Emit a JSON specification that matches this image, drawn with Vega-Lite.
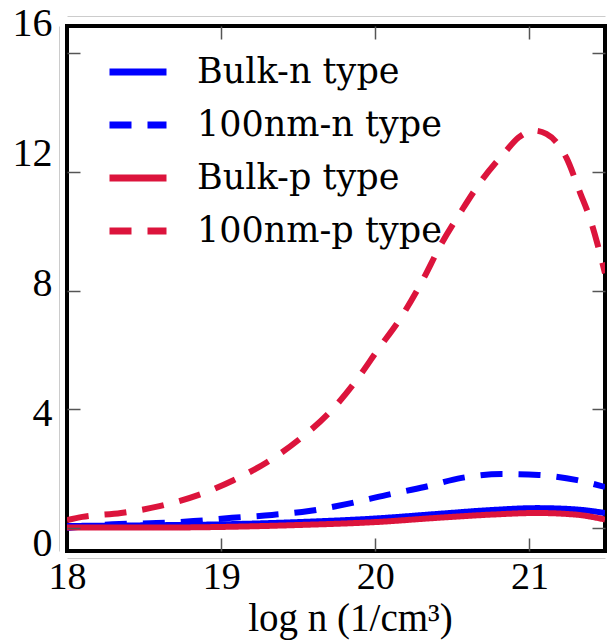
{
  "$schema": "https://vega.github.io/schema/vega-lite/v6.json",
  "width": 538,
  "height": 525,
  "autosize": {"type": "none"},
  "padding": {"left": 67, "top": 26, "right": 3, "bottom": 89},
  "background": "white",
  "config": {
    "view": {"stroke": "black", "strokeWidth": 4},
    "axis": {"grid": false}
  },
  "resolve": {
    "scale": {"y": "independent"},
    "axis": {"x": "independent", "y": "independent"}
  },
  "layer": [
    {
      "data": {
        "values": [
          {"series": "Bulk-n type", "logn": 18.0, "value": 0.63},
          {"series": "Bulk-n type", "logn": 18.5, "value": 0.65},
          {"series": "Bulk-n type", "logn": 19.0, "value": 0.68},
          {"series": "Bulk-n type", "logn": 19.5, "value": 0.75},
          {"series": "Bulk-n type", "logn": 20.0, "value": 0.86},
          {"series": "Bulk-n type", "logn": 20.4, "value": 1.0},
          {"series": "Bulk-n type", "logn": 20.75, "value": 1.12},
          {"series": "Bulk-n type", "logn": 21.05, "value": 1.18},
          {"series": "Bulk-n type", "logn": 21.3, "value": 1.14},
          {"series": "Bulk-n type", "logn": 21.49, "value": 1.03},

          {"series": "100nm-n type", "logn": 18.0, "value": 0.57},
          {"series": "100nm-n type", "logn": 18.34, "value": 0.69},
          {"series": "100nm-n type", "logn": 18.58, "value": 0.72},
          {"series": "100nm-n type", "logn": 18.82, "value": 0.78},
          {"series": "100nm-n type", "logn": 19.07, "value": 0.88},
          {"series": "100nm-n type", "logn": 19.33, "value": 0.97},
          {"series": "100nm-n type", "logn": 19.57, "value": 1.09},
          {"series": "100nm-n type", "logn": 19.82, "value": 1.31},
          {"series": "100nm-n type", "logn": 20.07, "value": 1.58},
          {"series": "100nm-n type", "logn": 20.32, "value": 1.83},
          {"series": "100nm-n type", "logn": 20.56, "value": 2.11},
          {"series": "100nm-n type", "logn": 20.82, "value": 2.23},
          {"series": "100nm-n type", "logn": 21.06, "value": 2.2},
          {"series": "100nm-n type", "logn": 21.31, "value": 2.04},
          {"series": "100nm-n type", "logn": 21.49, "value": 1.83},

          {"series": "Bulk-p type", "logn": 18.0, "value": 0.58},
          {"series": "Bulk-p type", "logn": 18.5, "value": 0.58},
          {"series": "Bulk-p type", "logn": 19.0, "value": 0.6},
          {"series": "Bulk-p type", "logn": 19.5, "value": 0.66},
          {"series": "Bulk-p type", "logn": 20.0, "value": 0.75},
          {"series": "Bulk-p type", "logn": 20.4, "value": 0.88},
          {"series": "Bulk-p type", "logn": 20.75, "value": 0.98},
          {"series": "Bulk-p type", "logn": 21.05, "value": 1.03},
          {"series": "Bulk-p type", "logn": 21.3, "value": 0.98},
          {"series": "Bulk-p type", "logn": 21.49, "value": 0.83},

          {"series": "100nm-p type", "logn": 18.0, "value": 0.81},
          {"series": "100nm-p type", "logn": 18.1, "value": 0.91},
          {"series": "100nm-p type", "logn": 18.35, "value": 1.03},
          {"series": "100nm-p type", "logn": 18.6, "value": 1.24},
          {"series": "100nm-p type", "logn": 18.85, "value": 1.58},
          {"series": "100nm-p type", "logn": 19.08, "value": 2.04},
          {"series": "100nm-p type", "logn": 19.3, "value": 2.6},
          {"series": "100nm-p type", "logn": 19.51, "value": 3.31},
          {"series": "100nm-p type", "logn": 19.7, "value": 4.11},
          {"series": "100nm-p type", "logn": 19.87, "value": 5.07},
          {"series": "100nm-p type", "logn": 20.02, "value": 6.08},
          {"series": "100nm-p type", "logn": 20.16, "value": 7.0},
          {"series": "100nm-p type", "logn": 20.3, "value": 8.13},
          {"series": "100nm-p type", "logn": 20.43, "value": 9.33},
          {"series": "100nm-p type", "logn": 20.56, "value": 10.34},
          {"series": "100nm-p type", "logn": 20.69, "value": 11.27},
          {"series": "100nm-p type", "logn": 20.84, "value": 12.13},
          {"series": "100nm-p type", "logn": 20.93, "value": 12.59},
          {"series": "100nm-p type", "logn": 21.03, "value": 12.8},
          {"series": "100nm-p type", "logn": 21.11, "value": 12.7},
          {"series": "100nm-p type", "logn": 21.24, "value": 11.96},
          {"series": "100nm-p type", "logn": 21.33, "value": 10.87},
          {"series": "100nm-p type", "logn": 21.39, "value": 10.13},
          {"series": "100nm-p type", "logn": 21.44, "value": 9.33},
          {"series": "100nm-p type", "logn": 21.49, "value": 8.41}
        ]
      },
      "mark": {"type": "line", "strokeWidth": 6, "interpolate": "monotone", "clip": true},
      "encoding": {
        "x": {
          "field": "logn",
          "type": "quantitative",
          "scale": {"domain": [18, 21.49], "nice": false, "zero": false},
          "axis": {
            "orient": "bottom",
            "offset": 7,
            "values": [18, 19, 20, 21],
            "ticks": false,
            "domainColor": "#cccccc",
            "domainWidth": 1,
            "labelFont": "Liberation Serif",
            "labelFontSize": 38,
            "labelColor": "black",
            "labelPadding": 0,
            "labelFlush": false,
            "labelOverlap": false,
            "title": "log n (1/cm³)",
            "titleFont": "Liberation Serif",
            "titleFontSize": 39,
            "titleFontWeight": "normal",
            "titleColor": "black",
            "titleAlign": "center",
            "titleBaseline": "alphabetic",
            "titleX": 283,
            "titleY": 72
          }
        },
        "y": {
          "field": "value",
          "type": "quantitative",
          "scale": {"domain": [-0.14, 16.02], "nice": false, "zero": false},
          "axis": {
            "orient": "left",
            "offset": 8,
            "values": [0, 4, 8, 12, 16],
            "ticks": false,
            "domainColor": "#cccccc",
            "domainWidth": 1,
            "labelFont": "Liberation Serif",
            "labelFontSize": 40,
            "labelColor": "black",
            "labelPadding": 7,
            "labelOffset": -3,
            "labelFlush": false,
            "labelOverlap": false,
            "title": null
          }
        },
        "color": {
          "field": "series",
          "type": "nominal",
          "scale": {
            "domain": ["Bulk-n type", "100nm-n type", "Bulk-p type", "100nm-p type"],
            "range": ["#0000ff", "#0000ff", "#dc143c", "#dc143c"]
          },
          "legend": {
            "title": null,
            "orient": "none",
            "legendX": 39,
            "legendY": 26,
            "padding": 0,
            "symbolType": "stroke",
            "symbolSize": 3249,
            "symbolStrokeWidth": 7,
            "labelFont": "DejaVu Serif",
            "labelFontSize": 35,
            "labelColor": "black",
            "labelOffset": 27,
            "labelLimit": 500,
            "clipHeight": 40,
            "rowPadding": 13
          }
        },
        "strokeDash": {
          "field": "series",
          "type": "nominal",
          "scale": {
            "domain": ["Bulk-n type", "100nm-n type", "Bulk-p type", "100nm-p type"],
            "range": [[1, 0], [22, 16], [1, 0], [22, 16]]
          },
          "legend": {
            "title": null,
            "orient": "none",
            "legendX": 39,
            "legendY": 26,
            "padding": 0,
            "symbolType": "stroke",
            "symbolSize": 3249,
            "symbolStrokeWidth": 7,
            "labelFont": "DejaVu Serif",
            "labelFontSize": 35,
            "labelColor": "black",
            "labelOffset": 27,
            "labelLimit": 500,
            "clipHeight": 40,
            "rowPadding": 13
          }
        }
      }
    },
    {
      "data": {"values": []},
      "mark": {"type": "point"},
      "encoding": {
        "x": {
          "field": "logn",
          "type": "quantitative",
          "scale": {"domain": [18, 21.49], "nice": false, "zero": false},
          "axis": {"orient": "bottom", "values": [19, 20, 21], "tickSize": -13, "tickWidth": 1.5, "tickColor": "#555555", "labels": false, "domain": false, "title": null, "zindex": 1}
        },
        "y": {
          "field": "tick",
          "type": "quantitative",
          "scale": {"domain": [-0.775, 16.91], "nice": false, "zero": false},
          "axis": {"orient": "left", "values": [0, 4, 8, 12, 16], "tickSize": -13, "tickWidth": 1.5, "tickColor": "#555555", "labels": false, "domain": false, "title": null, "zindex": 1}
        }
      }
    },
    {
      "data": {"values": []},
      "mark": {"type": "point"},
      "encoding": {
        "x": {
          "field": "logn",
          "type": "quantitative",
          "scale": {"domain": [18, 21.49], "nice": false, "zero": false},
          "axis": {"orient": "top", "values": [19, 20, 21], "tickSize": -13, "tickWidth": 1.5, "tickColor": "#555555", "labels": false, "domain": false, "title": null, "zindex": 1}
        },
        "y": {
          "field": "tick",
          "type": "quantitative",
          "scale": {"domain": [-0.775, 16.91], "nice": false, "zero": false},
          "axis": {"orient": "right", "values": [0, 4, 8, 12, 16], "tickSize": -13, "tickWidth": 1.5, "tickColor": "#555555", "labels": false, "domain": false, "title": null, "zindex": 1}
        }
      }
    },
    {
      "data": {"values": []},
      "mark": {"type": "point"},
      "encoding": {
        "x": {
          "field": "logn",
          "type": "quantitative",
          "scale": {"domain": [18, 21.49], "nice": false, "zero": false},
          "axis": {"orient": "top", "offset": 10, "ticks": false, "labels": false, "domainColor": "#cccccc", "domainWidth": 1, "title": null}
        }
      }
    }
  ]
}
